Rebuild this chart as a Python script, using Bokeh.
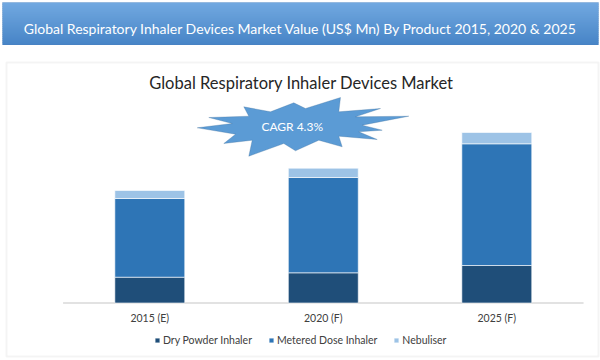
from bokeh.plotting import figure
from bokeh.models import (Range1d, BoxAnnotation, Label, PolyAnnotation, Legend,
                          LegendItem, ColumnDataSource)
from bokeh.core.properties import value
from bokeh.embed import file_html
from bokeh.resources import INLINE

# ---- data (US$ Mn) ----
years = ["2015 (E)", "2020 (F)", "2025 (F)"]
products = ["Dry Powder Inhaler", "Metered Dose Inhaler", "Nebuliser"]
dry_powder = [2580, 3020, 3750]
metered_dose = [7870, 9530, 12170]
nebuliser = [800, 930, 1130]
colors = ["#1f4e79", "#2e75b6", "#9dc3e6"]

header_text = "Global Respiratory Inhaler Devices Market Value (US$ Mn) By Product 2015, 2020 & 2025"
chart_title = "Global Respiratory Inhaler Devices Market"
cagr_text = "CAGR 4.3%"

FONT = "Lato"
W, H = 600, 360

# category slots: index positions on a numeric scale (one unit per category)
idx = list(range(len(years)))

p = figure(width=W, height=H, x_range=Range1d(-0.8605, 2.5977), y_range=Range1d(-5750, 30250),
           output_backend="svg", toolbar_location=None,
           x_axis_location=None, y_axis_location=None,
           min_border=0, outline_line_color=None)
p.xgrid.visible = False
p.ygrid.visible = False


def canvas_box(left, right, top, bottom, **kw):
    return BoxAnnotation(left=left, right=right, top=top, bottom=bottom,
                         left_units="canvas", right_units="canvas",
                         top_units="canvas", bottom_units="canvas", **kw)


# ---- header banner (gradient approximated with strips) ----
top_rgb = (113, 168, 224)
bot_rgb = (72, 133, 199)
y0, y1 = 2.0, 44.0
n = 21
for i in range(n):
    t = i / (n - 1)
    c = tuple(int(round(a + (b - a) * t)) for a, b in zip(top_rgb, bot_rgb))
    ya = y0 + (y1 - y0) * i / n
    yb = y0 + (y1 - y0) * (i + 1) / n
    p.add_layout(canvas_box(2, 598, ya, yb + 0.5, fill_color="#%02x%02x%02x" % c,
                            fill_alpha=1, line_color=None))
p.add_layout(canvas_box(2, 598, 2, 44, fill_alpha=0, line_color="#4a7ebb", line_width=1))
p.add_layout(Label(x=300, y=27.5, x_units="canvas", y_units="canvas", text=header_text,
                   text_align="center", text_baseline="middle", text_color="white",
                   text_font=FONT, text_font_size="14px"))

# ---- chart frame box ----
p.add_layout(canvas_box(6, 598, 62, 356, fill_alpha=0, line_color="#d9d9d9", line_width=2))

# ---- chart title ----
p.add_layout(Label(x=301, y=82, x_units="canvas", y_units="canvas", text=chart_title,
                   text_align="center", text_baseline="middle", text_color="#262626",
                   text_font=FONT, text_font_size="16.5px"))

# ---- CAGR starburst ----
star = [(196.7, 127.3), (231.7, 123), (208.3, 117), (248.3, 115.7), (243.3, 106.3),
        (270, 111.3), (293.3, 102.3), (305, 108), (340, 97), (338.3, 111.3),
        (380, 108), (355, 116.3), (408.3, 115.7), (361.7, 124.7), (381.7, 129.7),
        (358.3, 131.3), (376.7, 139), (338.3, 135.7), (341.7, 146.3), (318.3, 139.7),
        (295, 150.3), (283.3, 143), (248.3, 155.7), (251.7, 139.7), (223.3, 143),
        (235, 133.7)]
p.add_layout(PolyAnnotation(xs=[a for a, b in star], ys=[b for a, b in star],
                            xs_units="canvas", ys_units="canvas",
                            fill_color="#5b9bd5", fill_alpha=1, line_color="#41719c",
                            line_width=1))
p.add_layout(Label(x=291.7, y=126.3, x_units="canvas", y_units="canvas", text=cagr_text,
                   text_align="center", text_baseline="middle", text_color="white",
                   text_font=FONT, text_font_size="12px"))

# ---- category baseline (spans the category slots) ----
p.segment(x0=[idx[0] - 0.5], y0=[0], x1=[idx[-1] + 0.5], y1=[0],
          line_color="#d9d9d9", line_width=1.5)

# ---- stacked bars ----
source = ColumnDataSource(dict(x=idx, label=years, base=[0] * len(years),
                               dry=dry_powder, metered=metered_dose, neb=nebuliser))
rs = p.vbar_stack(["dry", "metered", "neb"], x="x", width=0.403, fill_color=colors,
                  line_color="white", line_width=0.6, source=source)

# ---- category labels under the baseline ----
p.text(x="x", y="base", text="label", source=source, y_offset=14.5,
       text_align="center", text_baseline="middle", text_font=value(FONT),
       text_font_size="10.5px", text_color="#404040")

# ---- legend ----
legend = Legend(items=[LegendItem(label=lab, renderers=[r]) for lab, r in zip(products, rs)],
                orientation="horizontal", location=(154, 14),
                border_line_color=None, background_fill_alpha=0, padding=0, margin=0,
                spacing=16, glyph_width=6, glyph_height=6, label_standoff=3,
                label_height=12, label_text_font=FONT, label_text_font_size="10.5px",
                label_text_color="#404040")
p.add_layout(legend)

open("out.html", "w").write(file_html(p, INLINE))
